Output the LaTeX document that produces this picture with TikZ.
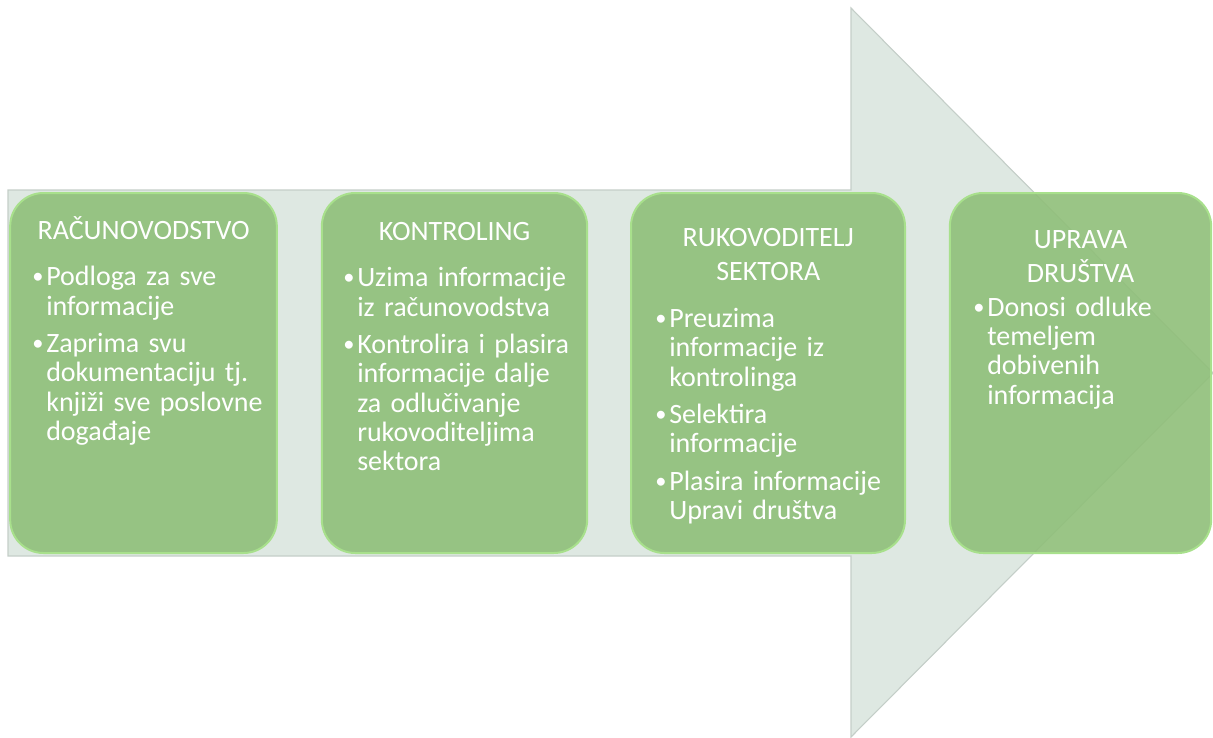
\documentclass[tikz,border=0pt]{standalone}
\usepackage{fontspec}
\setmainfont[WordSpace=0.85]{Carlito}
\usetikzlibrary{positioning}

\definecolor{arrowfill}{RGB}{222,232,226}
\definecolor{arrowline}{RGB}{196,206,200}
\definecolor{stagefill}{RGB}{143,191,121}
\definecolor{stageline}{RGB}{168,224,140}

\newcommand{\nl}{\hfil\break}
\newcommand{\ttl}[2][167pt]{\noindent\parbox[b]{#1}{\centering\baselineskip=26pt\rule{0pt}{18pt}#2}\par\vspace{13pt}}
\newcommand{\itm}[1]{\hangindent=0.5em\hangafter=1\noindent\makebox[0.5em][l]{\raisebox{0.08em}{\scalebox{0.8}{\textbullet}}}#1\par\vspace{6pt}}

\begin{document}
\begin{tikzpicture}[
    x=0.75pt, y=-0.75pt,
    stage/.style={rounded corners=25pt, draw=stageline, line width=1.5pt,
      fill=stagefill, fill opacity=0.9, minimum height=270pt, inner sep=0pt},
    txt/.style={anchor=north west, text width=200pt, inner sep=0pt, text=white,
      font=\fontsize{21}{22}\selectfont, execute at begin node=\raggedright}
  ]
  \useasboundingbox (0,0) rectangle (1213,738);

  % big arrow
  \draw[arrowline, fill=arrowfill, line width=0.8pt]
    (8,190) -- (851,190) -- (851,8) -- (1213,373) -- (851,737) -- (851,556) -- (8,556) -- cycle;

  % stages
  \node[stage, minimum width=200pt] (s1) at (143.5,373) {};
  \node[stage, minimum width=199pt] (s2) at (454.5,373) {};
  \node[stage, minimum width=205.5pt] (s3) at (768,373) {};
  \node[stage, minimum width=196pt] (s4) at (1080.5,373) {};

  % texts
  \node[txt] (t1) at (32,215) {\ttl{RAČUNOVODSTVO}%
    \itm{Podloga za sve\nl informacije}%
    \itm{Zaprima svu\nl dokumentaciju tj.\nl knjiži sve poslovne\nl događaje}};
  \node[txt] (t2) at (343,216) {\ttl{KONTROLING}%
    \itm{Uzima informacije\nl iz računovodstva}%
    \itm{Kontrolira i plasira\nl informacije dalje\nl za odlučivanje\nl rukovoditeljima\nl sektora}};
  \node[txt] (t3) at (655,222) {\ttl[169.5pt]{RUKOVODITELJ\\SEKTORA}%
    \itm{Preuzima\nl informacije iz\nl kontrolinga}%
    \itm{Selektira\nl informacije}%
    \itm{Plasira informacije\nl Upravi društva}};
  \node[txt] (t4) at (973,224) {\ttl[161pt]{UPRAVA\\DRUŠTVA}\vspace{-10pt}%
    \itm{Donosi odluke\nl temeljem\nl dobivenih\nl informacija}};
\end{tikzpicture}
\end{document}
